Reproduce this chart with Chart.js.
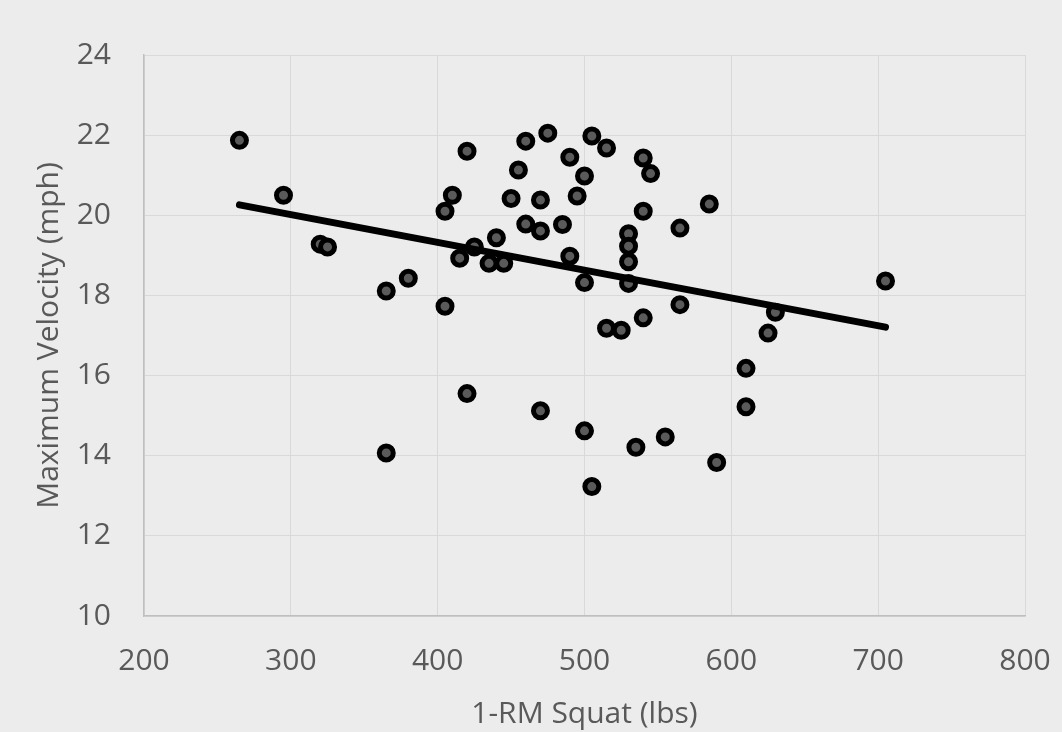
<!DOCTYPE html>
<html>
<head>
<meta charset="utf-8">
<script src="https://cdn.jsdelivr.net/npm/chart.js@4"></script>
<style>
  html, body { margin: 0; padding: 0; background: #ececec; }
  #wrap { width: 1062px; height: 732px; position: relative; }
</style>
</head>
<body>
<div id="wrap"><canvas id="c" width="1062" height="732"></canvas></div>
<script>
// 1-RM squat (lbs)
const squatLbs = [
  265, 295, 320, 325, 365, 380, 365, 405, 410, 405,
  415, 420, 425, 420, 440, 435, 445, 460, 475, 505,
  515, 490, 455, 500, 540, 545, 450, 470, 495, 540,
  565, 460, 470, 485, 490, 530, 530, 530, 530, 500,
  540, 565, 515, 525, 470, 500, 535, 555, 505, 705,
  585, 630, 625, 610, 610, 590
];
// Maximum velocity (mph)
const maxVelocity = [
  21.87, 20.50, 19.28, 19.21, 18.11, 18.43, 14.07, 20.10, 20.50, 17.73,
  18.93, 21.60, 19.21, 15.55, 19.44, 18.80, 18.80, 21.85, 22.05, 21.98,
  21.68, 21.45, 21.13, 20.98, 21.43, 21.04, 20.42, 20.38, 20.48, 20.10,
  19.68, 19.78, 19.61, 19.77, 18.98, 19.54, 19.23, 18.84, 18.30, 18.32,
  17.44, 17.77, 17.18, 17.13, 15.12, 14.62, 14.21, 14.47, 13.23, 18.36,
  20.28, 17.58, 17.06, 16.18, 15.22, 13.83
];
// Linear trendline endpoints
const trendX = [265, 705];
const trendY = [20.26, 17.21];

const xTicks = [200, 300, 400, 500, 600, 700, 800];
const yTicks = [10, 12, 14, 16, 18, 20, 22, 24];
const xTitle = '1-RM Squat (lbs)';
const yTitle = 'Maximum Velocity (mph)';

const points = squatLbs.map((x, i) => ({ x: x, y: maxVelocity[i] }));
const trend = trendX.map((x, i) => ({ x: x, y: trendY[i] }));

const FONT = '"Open Sans", "Noto Sans", sans-serif';
const TXT = '#595959';

new Chart(document.getElementById('c'), {
  type: 'scatter',
  data: {
    datasets: [
      {
        label: 'Trend',
        data: trend,
        showLine: true,
        borderColor: '#000000',
        borderWidth: 7,
        borderCapStyle: 'round',
        pointRadius: 0,
        pointHoverRadius: 0,
        fill: false
      },
      {
        label: 'Data',
        data: points,
        backgroundColor: '#5a5a5a',
        borderColor: '#000000',
        borderWidth: 5,
        pointRadius: 7,
        pointHoverRadius: 7
      }
    ]
  },
  options: {
    responsive: false,
    animation: false,
    events: [],
    layout: { padding: { left: 0, right: 37, top: 55, bottom: 0 } },
    plugins: { legend: { display: false }, tooltip: { enabled: false } },
    scales: {
      x: {
        type: 'linear',
        min: 200, max: 800,
        afterBuildTicks: (axis) => { axis.ticks = xTicks.map(v => ({ value: v })); },
        afterFit: (axis) => { axis.height = 116; axis.paddingRight = 0; axis.paddingLeft = 0; },
        grid: { color: '#d9d9d9', lineWidth: 1, drawTicks: false },
        border: { color: '#bfbfbf', width: 1.5 },
        ticks: { color: TXT, padding: 27, font: { family: FONT, size: 30 } },
        title: { display: true, text: xTitle, color: TXT, padding: { top: 0, bottom: 0 }, font: { family: FONT, size: 30 } }
      },
      y: {
        type: 'linear',
        min: 10, max: 24,
        afterBuildTicks: (axis) => { axis.ticks = yTicks.map(v => ({ value: v })); },
        afterFit: (axis) => { axis.width = 144; axis.paddingTop = 0; axis.paddingBottom = 0; },
        grid: { color: '#d9d9d9', lineWidth: 1, drawTicks: false },
        border: { color: '#bfbfbf', width: 1.5 },
        ticks: { color: TXT, padding: 33, font: { family: FONT, size: 30 } },
        title: { display: true, text: yTitle, color: TXT, padding: { top: 31, bottom: 0 }, font: { family: FONT, size: 30 } }
      }
    }
  }
});
</script>
</body>
</html>
